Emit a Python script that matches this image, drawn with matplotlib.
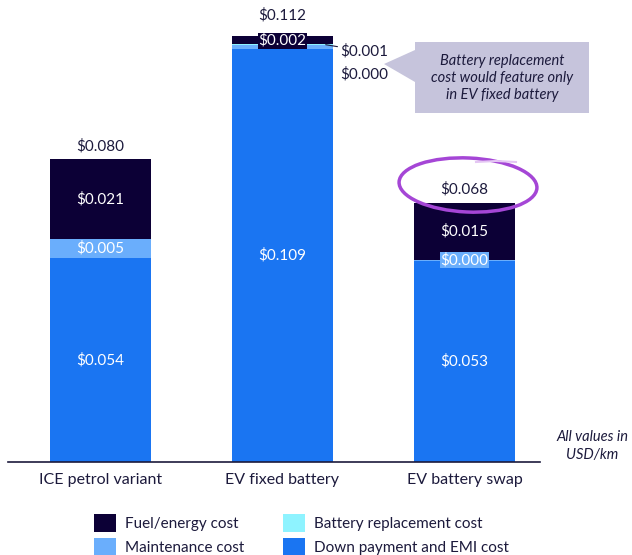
import matplotlib
matplotlib.use('Agg')
import matplotlib.pyplot as plt
from matplotlib.patches import Patch, Polygon, Ellipse
import numpy as np

plt.rcParams['font.family'] = ['Lato', 'DejaVu Sans']

categories = ['ICE petrol variant', 'EV fixed battery', 'EV battery swap']
down_payment = [0.054, 0.109, 0.053]
maintenance = [0.005, 0.0012, 0.0004]
battery_repl = [0.0, 0.0003, 0.0]
fuel = [0.021, 0.0019, 0.015]
totals = ['$0.080', '$0.112', '$0.068']
down_lbl = ['$0.054', '$0.109', '$0.053']
maint_lbl = ['$0.005', '$0.001', '$0.000']
fuel_lbl = ['$0.021', '$0.002', '$0.015']

c_fuel = '#0c0036'
c_batt = '#8ef3ff'
c_maint = '#6aaefc'
c_down = '#1a75f2'
c_text = '#1c1a3c'

W, H = 632, 555
fig = plt.figure(figsize=(W / 100, H / 100), dpi=100)
ax = fig.add_axes([8 / W, 93 / H, 532 / W, 462 / H])


def px(x, y):
    return (x / W, 1 - y / H)


x = np.arange(len(categories))
bw = 0.555
b1 = np.array(down_payment)
b2 = b1 + np.array(maintenance)
b3 = b2 + np.array(battery_repl)
top = b3 + np.array(fuel)

ax.bar(x, down_payment, bw, color=c_down)
ax.bar(x, maintenance, bw, bottom=b1, color=c_maint)
ax.bar(x, battery_repl, bw, bottom=b2, color=c_batt)
ax.bar(x, fuel, bw, bottom=b3, color=c_fuel)

ax.set_xlim(-0.508, 2.415)
ax.set_ylim(0, 0.122)
for s in ['top', 'right', 'left']:
    ax.spines[s].set_visible(False)
ax.spines['bottom'].set_color(c_text)
ax.spines['bottom'].set_linewidth(1.2)
ax.set_yticks([])
ax.set_xticks(x)
ax.set_xticklabels(categories, fontsize=11.5, color=c_text)
ax.tick_params(axis='x', length=0, pad=8)

fs = 11
tot_off = [4, 10, 5]
for i in range(3):
    ax.text(x[i], b1[i] / 2, down_lbl[i], ha='center', va='center', color='white', fontsize=fs)
    ax.annotate(totals[i], xy=(x[i], top[i]), xytext=(0, tot_off[i]), textcoords='offset points',
                ha='center', va='bottom', color=c_text, fontsize=fs)

# value labels sitting on segments
ax.text(x[0], (b3[0] + top[0]) / 2, fuel_lbl[0], ha='center', va='center', color='white', fontsize=fs)
ax.text(x[0], (b1[0] + b2[0]) / 2, maint_lbl[0], ha='center', va='center', color='white', fontsize=fs,
        bbox=dict(boxstyle='square,pad=0.05', fc=c_maint, ec='none'))
ax.text(x[1], (b3[1] + top[1]) / 2 - 0.0002, fuel_lbl[1], ha='center', va='center', color='white', fontsize=fs,
        bbox=dict(boxstyle='square,pad=0.05', fc=c_fuel, ec='none'))
ax.text(x[2], (b3[2] + top[2]) / 2, fuel_lbl[2], ha='center', va='center', color='white', fontsize=fs)
ax.text(x[2], b2[2], maint_lbl[2], ha='center', va='center', color='white', fontsize=fs,
        bbox=dict(boxstyle='square,pad=0.05', fc=c_maint, ec='none'))

# outside labels for EV fixed battery
ax.annotate(maint_lbl[1], xy=(x[1] + bw / 2 - 0.04, b2[1]), xytext=(x[1] + bw / 2 + 0.04, 0.1085),
            ha='left', va='center', color=c_text, fontsize=fs,
            arrowprops=dict(arrowstyle='-', color=c_text, lw=0.8, shrinkA=0, shrinkB=0))
ax.text(x[1] + bw / 2 + 0.04, 0.1025, '$0.000', ha='left', va='center', color=c_text, fontsize=fs)

# callout box
box = [px(415, 42), px(589, 42), px(589, 113), px(415, 113), px(415, 82), px(384, 64), px(415, 50)]
fig.patches.append(Polygon(box, closed=True, transform=fig.transFigure, fc='#c6c4dc', ec='none'))
fig.text(*px(502, 78), 'Battery replacement\ncost would feature only\nin EV fixed battery',
         ha='center', va='center', style='italic', color=c_text, fontsize=10.5, linespacing=1.25)

# highlight ring
fig.patches.append(Ellipse(px(468, 185), 138 / W, 54 / H, angle=-3, transform=fig.transFigure,
                           fill=False, ec='#a546d6', lw=2.5))
fig.lines.append(plt.Line2D([476 / W, 496 / W, 516 / W], [1 - 162 / H, 1 - 161 / H, 1 - 162 / H],
                            transform=fig.transFigure, color='#e4c6f3', lw=1.5))

fig.text(*px(592, 446), 'All values in\nUSD/km', ha='center', va='center', style='italic',
         color=c_text, fontsize=10.5, linespacing=1.3)

handles = [Patch(fc=c_fuel), Patch(fc=c_maint), Patch(fc=c_batt), Patch(fc=c_down)]
labels = ['Fuel/energy cost', 'Maintenance cost', 'Battery replacement cost', 'Down payment and EMI cost']
fig.legend(handles, labels, ncol=2, loc='upper left', bbox_to_anchor=px(86, 506), frameon=False,
           fontsize=11, handlelength=1.45, handleheight=1.45, handletextpad=0.6,
           columnspacing=2.55, labelspacing=0.4, borderpad=0, labelcolor=c_text)

fig.savefig('out.png', dpi=100)
